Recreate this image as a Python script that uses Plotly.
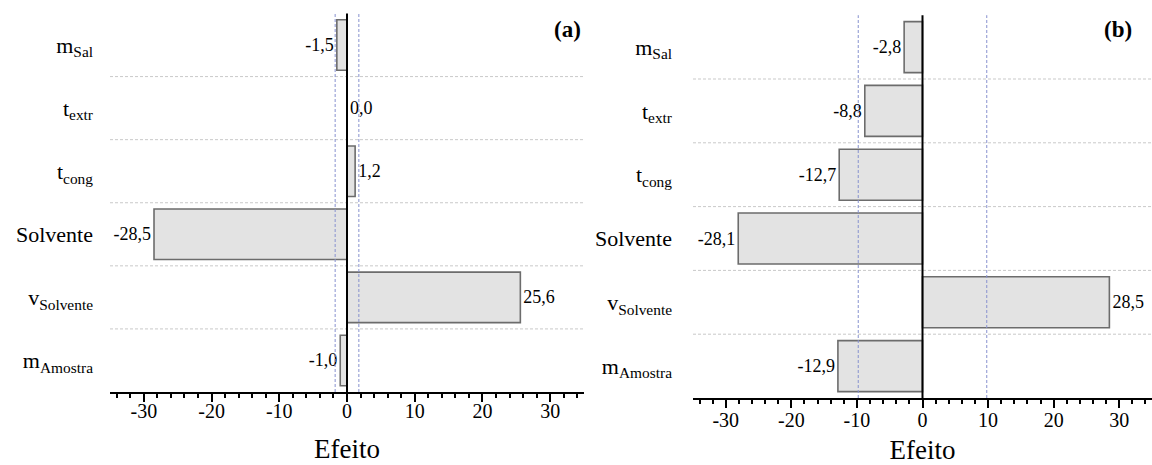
import plotly.graph_objects as go

# Factor labels (top to bottom) and effect values for both designs
factors = ["m<sub>Sal</sub>", "t<sub>extr</sub>", "t<sub>cong</sub>", "Solvente",
           "v<sub>Solvente</sub>", "m<sub>Amostra</sub>"]
effects_a = [-1.5, 0.0, 1.2, -28.5, 25.6, -1.0]
effects_b = [-2.8, -8.8, -12.7, -28.1, 28.5, -12.9]

# Significance limits drawn as dashed reference lines
limit_a = 1.75
limit_b = 9.8

x_ticks = [-30, -20, -10, 0, 10, 20, 30]
x_tick_text = [str(v) for v in x_ticks]
panel_tags = ["(a)", "(b)"]
x_title = "Efeito"

W, H = 1152, 465
FONT = "Liberation Serif"
BAR_FILL = "#e3e3e3"
BAR_EDGE = "#6c6c6c"
GRID = "#c9c9c9"
LIMIT = "#8791cf"


def fmt(v):
    return f"{v:.1f}".replace(".", ",")


fig = go.Figure()

panels = [
    dict(vals=effects_a, lim=limit_a, xa="x", ya="y",
         xdom=[110 / W, 584 / W], ydom=[1 - 392 / H, 1 - 13.5 / H],
         xlab_off=-8, title_off=18, ylab_off=16, tag_x=0.965),
    dict(vals=effects_b, lim=limit_b, xa="x2", ya="y2",
         xdom=[693 / W, 1.0], ydom=[1 - 398 / H, 1 - 15.2 / H],
         xlab_off=-5, title_off=12, ylab_off=20, tag_x=0.926),
]

shapes = []
annotations = []
for k, p in enumerate(panels):
    fig.add_trace(go.Bar(
        x=p["vals"], y=list(range(len(factors))), orientation="h",
        xaxis=p["xa"], yaxis=p["ya"], width=0.8,
        marker=dict(color=BAR_FILL, line=dict(color=BAR_EDGE, width=1.6)),
        text=[fmt(v) for v in p["vals"]], textposition="outside",
        constraintext="none", cliponaxis=False,
        textfont=dict(family=FONT, size=18, color="black"),
        outsidetextfont=dict(family=FONT, size=18, color="black"),
        hoverinfo="skip", showlegend=False,
    ))

    # dashed separators between factor rows
    for i in range(len(factors) - 1):
        shapes.append(dict(type="line", xref=f"{p['xa']} domain", yref=p["ya"],
                           x0=0, x1=1, y0=i + 0.5, y1=i + 0.5, layer="below",
                           line=dict(color=GRID, width=1, dash="3px,2px")))
    # significance limits
    for s in (-1, 1):
        shapes.append(dict(type="line", xref=p["xa"], yref=f"{p['ya']} domain",
                           x0=s * p["lim"], x1=s * p["lim"], y0=0, y1=1, layer="above",
                           line=dict(color=LIMIT, width=1, dash="3px,2px")))
    # zero line
    shapes.append(dict(type="line", xref=p["xa"], yref=f"{p['ya']} domain",
                       x0=0, x1=0, y0=0, y1=1, layer="above",
                       line=dict(color="black", width=2)))

    annotations.append(dict(text=f"<b>{panel_tags[k]}</b>", xref=f"{p['xa']} domain",
                            yref="paper", x=p["tag_x"], y=1 - 29 / H,
                            xanchor="center", yanchor="middle", showarrow=False,
                            font=dict(family=FONT, size=23, color="black")))

    xname = "xaxis" if k == 0 else "xaxis2"
    yname = "yaxis" if k == 0 else "yaxis2"
    fig.update_layout(**{
        xname: dict(domain=p["xdom"], anchor=p["ya"], range=[-35, 35],
                    tickmode="array", tickvals=x_ticks, ticktext=x_tick_text,
                    ticks="outside", ticklen=8, tickwidth=1.5, tickcolor="black",
                    minor=dict(ticks="outside", ticklen=4, tickwidth=1.5, tickcolor="black",
                               tickmode="linear", tick0=0, dtick=2, showgrid=False),
                    showline=True, linecolor="black", linewidth=2,
                    showgrid=False, zeroline=False,
                    ticklabelstandoff=p["xlab_off"],
                    tickfont=dict(family=FONT, size=20, color="black"),
                    title=dict(text=x_title, standoff=p["title_off"],
                               font=dict(family=FONT, size=27, color="black"))),
        yname: dict(domain=p["ydom"], anchor=p["xa"], range=[len(factors) - 0.5, -0.5],
                    tickmode="array", tickvals=list(range(len(factors))), ticktext=factors,
                    ticks="", showline=False, showgrid=False, zeroline=False,
                    ticklabelstandoff=p["ylab_off"],
                    tickfont=dict(family=FONT, size=22, color="black")),
    })

fig.update_layout(width=W, height=H, margin=dict(l=0, r=0, t=0, b=0),
                  paper_bgcolor="white", plot_bgcolor="white",
                  font=dict(family=FONT, color="black"),
                  shapes=shapes, annotations=annotations, bargap=0.2)

fig.write_html("out.html")
